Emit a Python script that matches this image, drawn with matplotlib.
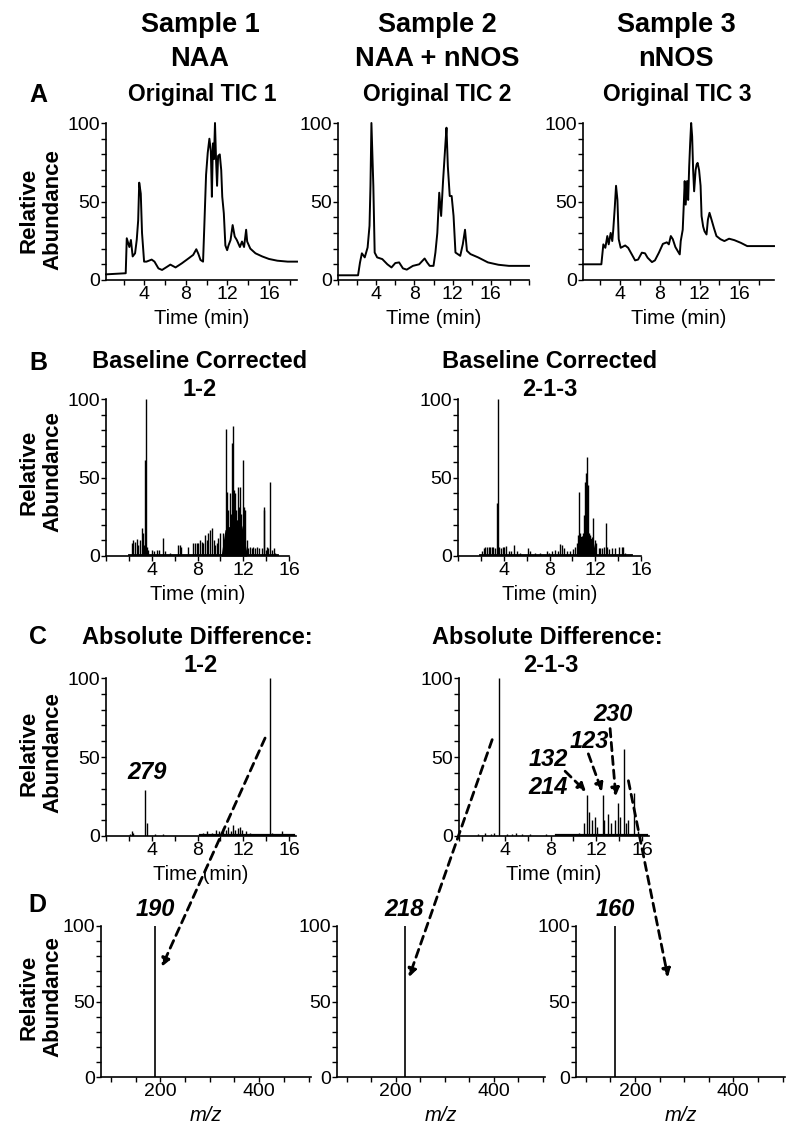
import matplotlib.pyplot as plt
from matplotlib.patches import ConnectionPatch
from matplotlib.ticker import MultipleLocator, FixedLocator
from matplotlib import font_manager

W, H = 796, 1137

# ---- row A: original TICs (time min, relative abundance) ----
tic1_t = [0.3, 2.2, 2.3, 2.55, 2.7, 2.87, 3.1, 3.26, 3.4, 3.5, 3.65, 3.77, 3.97, 4.2, 4.7, 4.97,
          5.35, 5.7, 6.2, 6.5, 7.0, 7.6, 8.26, 8.7, 9.0, 9.2, 9.4, 9.65, 9.77, 9.94, 10.1, 10.26,
          10.4, 10.5, 10.6, 10.7, 10.8, 10.9, 11.0, 11.1, 11.26, 11.4, 11.5, 11.65, 11.8, 11.97,
          12.1, 12.3, 12.5, 12.7, 12.9, 13.2, 13.4, 13.6, 13.8, 13.9, 14.2, 14.7, 15.35, 16.0,
          16.8, 17.8, 18.7]
tic1_v = [3.6, 4.3, 26.6, 21, 25.5, 15, 17, 25.5, 38, 62, 55, 30, 11.7, 11.7, 13, 11.7,
          7.4, 6.4, 8.5, 9.8, 8, 10.6, 13.8, 16, 19.6, 16.6, 12.8, 11.7, 34, 67, 81, 90,
          82, 53, 87, 77, 100, 77, 60, 79, 80, 70, 53, 42.5, 22, 19,
          22, 25.5, 35, 27.7, 25.5, 21, 24.5, 21, 32, 24.5, 20, 17, 15, 13.4,
          12.3, 11.7, 11.7]

tic2_t = [0, 2.1, 2.3, 2.5, 2.8, 3.1, 3.3, 3.4, 3.5, 3.7, 3.84, 4.1, 4.64, 5.17, 5.6, 6.0,
          6.4, 6.8, 7.2, 7.84, 8.5, 9.07, 9.33, 9.6, 10.0, 10.2, 10.4, 10.6, 10.8, 11.0,
          11.25, 11.36, 11.5, 11.7, 11.9, 12.1, 12.3, 12.8, 13.07, 13.3, 13.5, 13.87, 14.67,
          15.7, 16.8, 17.9, 20]
tic2_v = [3, 3, 11, 17, 14.4, 20.7, 34.5, 60, 100, 60, 17.5, 14.4, 13.3, 10, 8, 10.8,
          11.2, 7.4, 6.6, 9, 10, 13.7, 11.2, 9, 9, 17.5, 30, 55.6, 40.8, 63,
          87, 97, 72.5, 53.5, 53.5, 40.8, 17.5, 15.4, 22.8, 32, 18.6, 16.5, 14.4,
          11.2, 9.7, 9, 9]

tic3_t = [0.27, 2.1, 2.3, 2.5, 2.7, 2.84, 3.04, 3.2, 3.3, 3.45, 3.58, 3.72, 3.85, 4.05, 4.5,
          4.8, 5.17, 5.5, 5.8, 6.18, 6.5, 6.76, 7.2, 7.5, 7.9, 8.3, 8.7, 8.9, 9.1, 9.3, 9.56,
          9.8, 10.0, 10.1, 10.3, 10.4, 10.5, 10.6, 10.74, 10.85, 10.95, 11.05, 11.15, 11.25,
          11.35, 11.45, 11.6, 11.7, 11.8, 11.95, 12.1, 12.2, 12.36, 12.5, 12.7, 12.84, 13.0,
          13.2, 13.45, 13.7, 14.1, 14.5, 14.97, 15.5, 16.15, 16.8, 18.2, 19.5]
tic3_v = [10, 10, 22.7, 20.5, 28, 22.7, 30, 24.8, 32, 46, 60, 51, 26, 20.5, 22,
          20.5, 16.3, 12.5, 13, 17.4, 17, 14.2, 11.4, 12.5, 17.4, 23, 24, 22.7, 28, 26, 21,
          18.4, 16.3, 24.8, 32, 47, 63, 48, 63, 51, 72, 87, 100, 91.5,
          70, 56.5, 70, 73.5, 74.6, 70, 60, 40.7, 34, 31, 29, 38.5, 42.8,
          38.5, 33, 28, 26, 24.8, 26.3, 25.4, 23.7, 21.6, 21.6, 21.6]

# ---- row B: baseline corrected (spikes) ----
b1_t = [2.25, 2.4, 2.54, 2.7, 2.83, 2.97, 3.12, 3.2, 3.3, 3.41, 3.47, 3.55, 3.7, 4.0, 4.2,
        4.43, 4.6, 4.96, 5.16, 5.6, 6.33, 6.47, 6.6, 7.2, 7.64, 7.8, 7.93, 8.08, 8.22, 8.37,
        8.5, 8.66, 8.8, 8.95, 9.1, 9.24, 9.4, 9.53, 9.68, 9.82, 9.97, 10.2, 10.3, 10.47,
        10.6, 10.7, 10.85, 10.93, 11.05, 11.14, 11.22, 11.3, 11.4, 11.5, 11.6, 11.72, 11.84,
        11.95, 12.04, 12.16, 12.3, 12.45, 12.6, 12.74, 12.89, 13.03, 13.18, 13.4, 13.6,
        13.8, 13.85, 14.0, 14.1, 14.2, 14.37, 14.5, 14.7, 14.78]
b1_h = [8, 10, 9, 11, 7, 10, 17.7, 14.5, 7, 61, 100, 6, 4, 4, 3,
        4, 4, 11.3, 3, 2, 7, 7, 6, 6, 8.5, 8.5, 8, 8.5, 10, 9,
        8, 13.4, 10, 14.5, 16.6, 17.7, 10, 7, 8, 11.3, 14.5, 14.5, 10, 81,
        41, 29, 40, 27, 72, 82.5, 42, 40, 29, 44, 31.5, 44, 27,
        61, 31.5, 29, 10, 5, 6, 5, 6, 5, 6, 5, 5,
        29, 31.5, 4, 5.5, 5, 47.4, 4, 5, 2]
b1_band_t = [10.1, 10.4, 10.7, 11.0, 11.3, 11.6, 11.9, 12.1, 12.3]
b1_band_v = [2, 16.6, 18.7, 18.7, 22, 24, 18.7, 10, 3]
b1_base = [2.0, 15.0]

b2_t = [2.1, 2.24, 2.4, 2.54, 2.68, 2.83, 2.97, 3.06, 3.27, 3.38, 3.47, 3.6, 3.76, 3.9,
        4.05, 4.23, 4.43, 4.6, 4.87, 5.16, 5.45, 6.1, 6.33, 6.76, 7.2, 7.78, 7.93, 8.2, 8.5,
        8.7, 8.9, 9.1, 9.24, 9.5, 9.8, 10.06, 10.26, 10.4, 10.5, 10.58, 10.64, 10.76, 10.9,
        11.0, 11.08, 11.17, 11.25, 11.34, 11.43, 11.5, 11.63, 11.72, 11.84, 11.95, 12.1,
        12.3, 12.45, 12.6, 12.74, 12.94, 13.03, 13.18, 13.47, 13.76, 14.05, 14.3, 14.43, 14.6]
b2_h = [3.4, 5, 6, 6, 6, 6, 6, 6, 5, 34, 100, 6, 5, 6,
        5.5, 6.4, 3.4, 3.4, 7, 3, 2, 5, 3, 2, 2, 3.4, 2, 3, 4,
        3.4, 7.7, 7, 5, 3.4, 3.4, 4.3, 6, 8, 13.4, 41, 14.5, 10, 14.5,
        26, 47, 53, 63, 45, 14.5, 13.4, 10.6, 12.3, 24, 10, 8,
        5, 5, 5, 5.5, 21, 6, 4.3, 5, 5, 5.5, 6, 6, 2]
b2_band_t = [10.4, 10.6, 10.9, 11.2, 11.5, 11.8, 12.0]
b2_band_v = [2, 12, 13, 14, 12, 10, 3]
b2_base = [1.9, 15.2]

# ---- row C: absolute differences ----
c1_t = [2.1, 2.25, 2.4, 3.45, 3.55, 4.3, 5.0, 8.5, 8.8, 9.3, 9.6, 9.9, 10.2, 10.5, 10.7,
        10.9, 11.1, 11.3, 11.5, 11.7, 11.9, 12.2, 12.6, 13.2, 14.35, 14.5, 15.4, 15.9]
c1_h = [1.5, 3, 2, 29, 8, 1, 1.5, 2, 3, 2, 4, 3, 5, 4, 6,
        3, 7, 4, 5, 6, 4, 3, 2, 1.5, 100, 2, 3, 1.5]
c1_base = [8.2, 16.4]

c2_t = [1.7, 2.3, 2.8, 3.1, 3.5, 4.2, 4.6, 5.0, 5.5, 6.2, 7.6, 9.6, 10.5, 10.9, 11.17,
        11.4, 11.6, 11.9, 12.1, 12.54, 12.7, 13.0, 13.3, 13.6, 13.88, 14.1, 14.44, 14.6,
        14.8, 15.25, 15.6]
c2_h = [1, 2, 1.5, 2, 100, 1, 1.5, 2, 1, 1.5, 1, 1.5, 2, 8, 26,
        15, 10, 12, 6, 26, 10, 14, 8, 10, 21, 12, 55, 8,
        10, 27, 3]
c2_base = [8.5, 16.4]

# ---- row D: mass spectra ----
d_mz = [190, 218, 160]
d_int = [100, 100, 100]
d_labels = ['190', '218', '160']

c1_label = ('279', 3.6, 40)
c2_labels = [('132', 7.8, 48.7), ('214', 7.8, 30.4), ('123', 11.4, 59.5), ('230', 13.5, 76.6)]

# short arrows inside C2: (t, v) -> (t, v)
c2_short_arrows = [((9.27, 41), (11.1, 28)), ((11.3, 52), (12.5, 28)), ((13.2, 68), (13.7, 25))]

BOLD = ['Liberation Sans', 'DejaVu Sans']
names = {f.name for f in font_manager.fontManager.ttflist}
NARROW = ['Liberation Sans Narrow', 'Liberation Sans'] if 'Liberation Sans Narrow' in names else ['Liberation Sans']

fig = plt.figure(figsize=(W / 100, H / 100), dpi=100)


def px_axes(left, top, width, height):
    return fig.add_axes([left / W, 1 - (top + height) / H, width / W, height / H])


def ftext(x, y, s, **kw):
    fig.text(x / W, 1 - y / H, s, ha='center', va='center', **kw)


def style(ax, xlim, xmajor, xminor, xlabel):
    ax.set_xlim(*xlim)
    ax.set_ylim(0, 100)
    for s in ['top', 'right']:
        ax.spines[s].set_visible(False)
    for s in ['left', 'bottom']:
        ax.spines[s].set_linewidth(1.2)
    ax.yaxis.set_major_locator(FixedLocator([0, 50, 100]))
    ax.yaxis.set_minor_locator(MultipleLocator(10))
    ax.xaxis.set_major_locator(FixedLocator(xmajor))
    ax.xaxis.set_minor_locator(MultipleLocator(xminor))
    ax.tick_params(which='both', direction='out', length=3.5, width=1, labelsize=14, pad=1)
    for lab in ax.get_xticklabels() + ax.get_yticklabels():
        lab.set_family(NARROW)
    ax.set_xlabel(xlabel, fontsize=14.5, family=NARROW, labelpad=4,
                  style='italic' if xlabel == 'm/z' else 'normal')


def ylab(y):
    ftext(41, y, 'Relative\nAbundance', rotation=90, fontsize=16, fontweight='bold',
          family=BOLD, linespacing=1.2)


# headers
for x, s in [(200, 'Sample 1\nNAA'), (437, 'Sample 2\nNAA + nNOS'), (676, 'Sample 3\nnNOS')]:
    ftext(x, 42, s, fontsize=19.5, fontweight='bold', family=BOLD, linespacing=1.4)

# row A
for (left, xlim, t, v, name, cx) in [
        (106, (0.3, 18.7), tic1_t, tic1_v, 'Original TIC 1', 202),
        (338, (0, 20), tic2_t, tic2_v, 'Original TIC 2', 437),
        (583, (0.25, 19.5), tic3_t, tic3_v, 'Original TIC 3', 677)]:
    ax = px_axes(left, 123, 191, 157)
    ax.plot(t, v, color='black', lw=1.4, clip_on=False)
    style(ax, xlim, [4, 8, 12, 16], 2, 'Time (min)')
    ftext(cx, 95, name, fontsize=16.5, fontweight='bold', family=BOLD)
ftext(38, 95, 'A', fontsize=18, fontweight='bold', family=BOLD)
ylab(210)

# row B
for (left, t, h, bt, bv, base, sub, cx) in [
        (106, b1_t, b1_h, b1_band_t, b1_band_v, b1_base, '1-2', 200),
        (458, b2_t, b2_h, b2_band_t, b2_band_v, b2_base, '2-1-3', 550)]:
    ax = px_axes(left, 399, 183, 157)
    ax.vlines(t, 0, h, color='black', lw=1.0)
    ax.fill_between(bt, 0, bv, color='black', lw=0)
    ax.plot(base, [0.8, 0.8], color='black', lw=1.3)
    style(ax, (0, 16), [4, 8, 12, 16], 2, 'Time (min)')
    ftext(cx, 362, 'Baseline Corrected', fontsize=17, fontweight='bold', family=BOLD)
    ftext(cx, 390, sub, fontsize=17, fontweight='bold', family=BOLD)
ftext(38, 363, 'B', fontsize=18, fontweight='bold', family=BOLD)
ylab(472)

# row C
axc = []
for (left, t, h, base, sub, cx) in [
        (106, c1_t, c1_h, c1_base, '1-2', 200),
        (459, c2_t, c2_h, c2_base, '2-1-3', 550)]:
    ax = px_axes(left, 678, 190, 158)
    ax.vlines(t, 0, h, color='black', lw=1.0)
    ax.plot(base, [0.8, 0.8], color='black', lw=1.6)
    style(ax, (0, 16.6), [4, 8, 12, 16], 2, 'Time (min)')
    ftext(cx - 3, 637, 'Absolute Difference:', fontsize=17, fontweight='bold', family=BOLD)
    ftext(cx + 1, 666, sub, fontsize=17, fontweight='bold', family=BOLD)
    axc.append(ax)
ftext(38, 637, 'C', fontsize=18, fontweight='bold', family=BOLD)
ylab(753)

lab_kw = dict(ha='center', va='center', fontsize=17, fontweight='bold', style='italic',
              family=BOLD)
axc[0].text(c1_label[1], c1_label[2], c1_label[0], **lab_kw)
for s, x, y in c2_labels:
    axc[1].text(x, y, s, **lab_kw)
for (p0, p1) in c2_short_arrows:
    axc[1].annotate('', xy=p1, xytext=p0,
                    arrowprops=dict(arrowstyle='-|>', ls=(0, (3, 2)), lw=2, color='black',
                                    mutation_scale=12, shrinkA=0, shrinkB=0))

# row D
axd = []
for (left, width, mz, inten, lab) in [(101, 210, d_mz[0], d_int[0], d_labels[0]),
                                       (337, 208, d_mz[1], d_int[1], d_labels[1]),
                                       (576, 209, d_mz[2], d_int[2], d_labels[2])]:
    ax = px_axes(left, 926, width, 151)
    ax.vlines([mz], 0, [inten], color='black', lw=1.2)
    style(ax, (80, 505), [200, 400], 50, 'm/z')
    ax.text(mz, 111, lab, **lab_kw)
    axd.append(ax)
ftext(37, 905, 'D', fontsize=18, fontweight='bold', family=BOLD)
ylab(997)

# long dashed arrows from C to D
for (axa, pa, axb, pb) in [(axc[0], (13.9, 62), axd[0], (203, 73)),
                           (axc[1], (2.9, 61), axd[1], (227, 66)),
                           (axc[1], (14.8, 35), axd[2], (267, 66))]:
    con = ConnectionPatch(xyA=pa, coordsA=axa.transData, xyB=pb, coordsB=axb.transData,
                          arrowstyle='-|>', ls=(0, (3, 2)), lw=2, color='black',
                          mutation_scale=12, shrinkA=0, shrinkB=0)
    fig.add_artist(con)

fig.savefig('out.png', dpi=100)
